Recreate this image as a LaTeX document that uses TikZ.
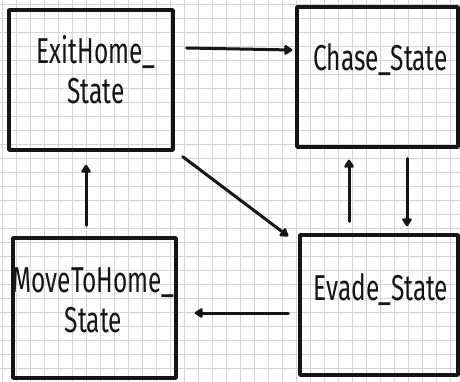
\documentclass[tikz,border=0pt]{standalone}
\usepackage{fontspec}
\setmainfont[FakeStretch=0.68]{Fira Sans}
\usetikzlibrary{positioning, arrows.meta, calc}
\definecolor{cGrid}{HTML}{D4D4D4}
\definecolor{cInk}{HTML}{151515}

\tikzset{
  statebox/.style={draw=cInk, line width=3.4pt, line join=round, minimum width=#1, minimum height=140pt, inner sep=0pt},
  statelabel/.style={text=cInk, font=\fontsize{36}{40}\selectfont, align=center, inner sep=0pt},
  trans/.style={draw=cInk, line width=3pt, line cap=round, -{Triangle[length=9pt,width=11pt,round]}}
}

\begin{document}
\begin{tikzpicture}[x=1pt, y=-1pt]
  \useasboundingbox[fill=white] (0,0) rectangle (460,382);
    % squared paper
    \foreach \gx in {2,16,...,460}{
      \draw[cGrid, line width=0.9pt] (\gx,0) -- (\gx,382);
    }
    \foreach \gy in {4,18,...,382}{
      \draw[cGrid, line width=0.9pt] (0,\gy) -- (460,\gy);
    }

  % states
  \node[statebox=164pt] (exit) at (91,80) {};
  \node[statebox=161pt] (chase) at (377.5,77) {};
  \node[statebox=163pt] (home) at (94.5,308) {};
  \node[statebox=158pt] (evade) at (379,305) {};

  \node[statelabel] (exitlbl) at ($(exit.center)+(5,-10)$) {ExitHome\_\\State};
  \node[statelabel] (chaselbl) at ($(chase.center)+(3,-17)$) {Chase\_State};
  \node[statelabel] (homelbl) at ($(home.center)+(-1,-8)$) {MoveToHome\_\\State};
  \node[statelabel] (evadelbl) at ($(evade.center)+(2,-15)$) {Evade\_State};

  % transitions
  \draw[trans] ([shift={(12,-32)}]exit.east) -- ([shift={(-3,-27)}]chase.west);
  \draw[trans] ([shift={(8,5)}]exit.south east) -- ([shift={(-10,3)}]evade.north west);
  \draw[trans] ([shift={(29.5,10)}]chase.south) -- ([shift={(28,-7)}]evade.north);
  \draw[trans] ([shift={(-30,-12)}]evade.north) -- ([shift={(-28.5,11)}]chase.south);
  \draw[trans] ([shift={(-10,8)}]evade.west) -- ([shift={(17,5)}]home.east);
  \draw[trans] ([shift={(-8.5,-11)}]home.north) -- ([shift={(-5,13)}]exit.south);
\end{tikzpicture}
\end{document}
